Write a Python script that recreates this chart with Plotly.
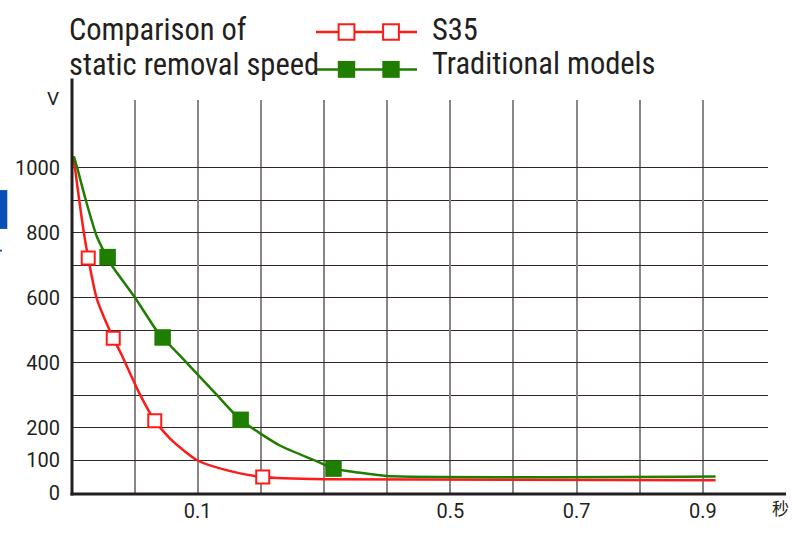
import plotly.graph_objects as go

# ---------------- data ----------------
s35_curve_x = [-0.097, -0.0943, -0.0876, -0.0802, -0.0733, -0.06, -0.0337, -0.022, 0.0086, 0.032, 0.06, 0.1, 0.15, 0.203, 0.3, 0.92]
s35_curve_y = [1034, 999, 900, 800, 722, 599, 476, 431, 303, 222, 160, 100, 68, 49, 42, 39]
s35_marker_x = [-0.0733, -0.0337, 0.032, 0.203]
s35_marker_y = [722, 476, 222, 49]

trad_curve_x = [-0.096, -0.0907, -0.077, -0.060, -0.0445, -0.0363, 0.0006, 0.035, 0.0445, 0.0827, 0.131, 0.168, 0.23, 0.288, 0.315, 0.35, 0.4, 0.92]
trad_curve_y = [1035, 999, 899, 790, 728, 700, 601, 499, 478, 400, 300, 225, 146, 98, 75, 64, 52, 51]
trad_marker_x = [-0.0426, 0.0445, 0.168, 0.315]
trad_marker_y = [725, 478, 225, 75]

x_tick_vals = [0.1, 0.5, 0.7, 0.9]
x_tick_text = ["0.1", "0.5", "0.7", "0.9"]
x_grid_vals = [0.0, 0.2, 0.3, 0.4, 0.6, 0.8]
y_tick_vals = [0, 100, 200, 400, 600, 800, 1000]
y_tick_text = ["0", "100", "200", "400", "600", "800", "1000"]
y_grid_vals = [300, 500, 700, 900]

title_lines = ["Comparison of", "static removal speed"]
series_names = ["S35", "Traditional models"]
y_unit = "V"
x_unit = "秒"

RED = "#ff1a1a"
GREEN = "#1f7d00"
TXT = "#231f20"

W, H = 792, 535
L, R, T, B = 72, 24, 100, 29.5
PW, PH = W - L - R, H - T - B


def px(x):
    return (x - L) / PW


def py(y):
    return (H - B - y) / PH


fig = go.Figure()
fig.add_trace(go.Scatter(x=s35_curve_x, y=s35_curve_y, mode="lines",
                         line=dict(color=RED, width=2.5, shape="spline", smoothing=0.6),
                         hoverinfo="skip", showlegend=False))
fig.add_trace(go.Scatter(x=trad_curve_x, y=trad_curve_y, mode="lines",
                         line=dict(color=GREEN, width=2.5, shape="spline", smoothing=0.6),
                         hoverinfo="skip", showlegend=False))
fig.add_trace(go.Scatter(x=s35_marker_x, y=s35_marker_y, mode="markers", name=series_names[0],
                         marker=dict(symbol="square", size=13, color="white",
                                     line=dict(color=RED, width=2)), showlegend=False))
fig.add_trace(go.Scatter(x=trad_marker_x, y=trad_marker_y, mode="markers", name=series_names[1],
                         marker=dict(symbol="square", size=16.5, color=GREEN,
                                     line=dict(width=0)), showlegend=False))

shapes = []
# axis lines extending beyond the plot area like the original
shapes.append(dict(type="line", xref="paper", yref="paper", x0=0, x1=0,
                   y0=py(507), y1=py(78), line=dict(color=TXT, width=3)))
shapes.append(dict(type="line", xref="paper", yref="paper", x0=px(L - 1.5), x1=px(786),
                   y0=0, y1=0, line=dict(color=TXT, width=3)))
# blue fragment at the left edge
shapes.append(dict(type="rect", xref="paper", yref="paper", x0=px(0), x1=px(7.3),
                   y0=py(232.7), y1=py(192.7), fillcolor="#0a4fb5", line=dict(width=0)))
shapes.append(dict(type="rect", xref="paper", yref="paper", x0=px(0), x1=px(2),
                   y0=py(256), y1=py(254), fillcolor="#0a4fb5", line=dict(width=0)))

# legend glyphs
leg_rows = [(30, RED, False), (68.5, GREEN, True)]
for yc, col, filled in leg_rows:
    shapes.append(dict(type="line", xref="paper", yref="paper", x0=px(316), x1=px(417),
                       y0=py(yc), y1=py(yc), line=dict(color=col, width=2.5)))
    for xc in (346.5, 391):
        s = 8.7 if filled else 7.9
        shapes.append(dict(type="rect", xref="paper", yref="paper",
                           x0=px(xc - s), x1=px(xc + s), y0=py(yc + s), y1=py(yc - s),
                           fillcolor=col if filled else "white",
                           line=dict(color=col, width=0 if filled else 2)))

TFONT = dict(family="Liberation Sans Narrow, Roboto Condensed, Roboto, sans-serif", size=30.5, color=TXT)
annotations = [
    dict(text=title_lines[0], xref="paper", yref="paper", x=px(67), y=py(27.5),
         xanchor="left", yanchor="middle", showarrow=False, font=TFONT),
    dict(text=title_lines[1], xref="paper", yref="paper", x=px(67), y=py(63),
         xanchor="left", yanchor="middle", showarrow=False, font=TFONT),
    dict(text=series_names[0], xref="paper", yref="paper", x=px(430), y=py(27.5),
         xanchor="left", yanchor="middle", showarrow=False, font=TFONT),
    dict(text=series_names[1], xref="paper", yref="paper", x=px(430), y=py(62),
         xanchor="left", yanchor="middle", showarrow=False, font=TFONT),
    dict(text=y_unit, xref="paper", yref="paper", x=px(53), y=py(98),
         xanchor="center", yanchor="middle", showarrow=False,
         font=dict(family="Roboto", size=19, color=TXT)),
    dict(text=x_unit, xref="paper", yref="paper", x=px(780), y=py(519),
         xanchor="center", yanchor="middle", showarrow=False,
         font=dict(family="Noto Sans CJK SC", size=17, color=TXT)),
]

fig.update_layout(
    width=W, height=H, margin=dict(l=L, r=R, t=T, b=B),
    paper_bgcolor="white", plot_bgcolor="white",
    shapes=shapes, annotations=annotations, showlegend=False,
    font=dict(family="Roboto", size=20, color=TXT),
)
fig.update_xaxes(range=[-0.099, 1.003], tickvals=x_tick_vals, ticktext=x_tick_text,
                 showgrid=True, gridcolor="#8a8484", gridwidth=2, zeroline=False,
                 showline=False, ticks="", ticklabelstandoff=3,
                 tickfont=dict(family="Roboto", size=20, color=TXT),
                 minor=dict(tickvals=x_grid_vals, showgrid=True, gridcolor="#8a8484", gridwidth=2, ticks=""))
fig.update_yaxes(range=[-3, 1207.8], tickvals=y_tick_vals, ticktext=y_tick_text,
                 showgrid=True, gridcolor="#2e2828", gridwidth=1.2, zeroline=False,
                 showline=False, ticks="", ticklabelstandoff=11,
                 tickfont=dict(family="Roboto", size=20, color=TXT),
                 minor=dict(tickvals=y_grid_vals, showgrid=True, gridcolor="#2e2828", gridwidth=1.2, ticks=""))

fig.write_html("out.html", config={"displayModeBar": False},
               post_script="document.body.style.margin='0px';document.body.style.overflow='hidden';")
